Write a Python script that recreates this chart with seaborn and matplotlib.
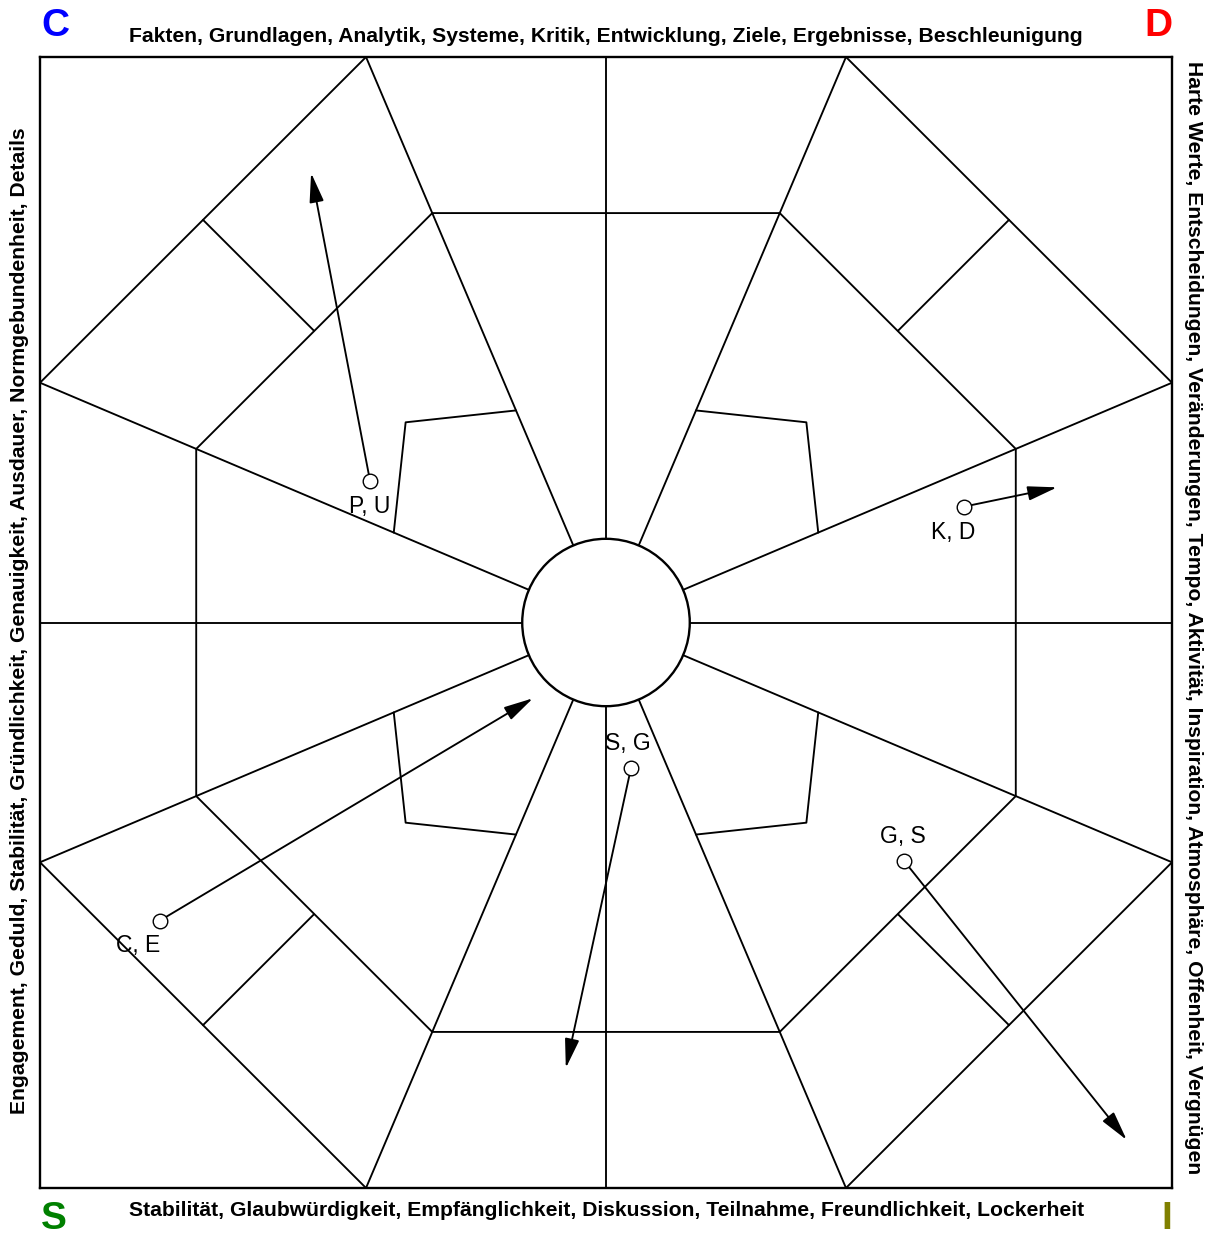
import numpy as np
import pandas as pd
import matplotlib
matplotlib.use("Agg")
import matplotlib.pyplot as plt
import seaborn as sns
from matplotlib.patches import Circle

# ---------------- data ----------------
top_text = "Fakten, Grundlagen, Analytik, Systeme, Kritik, Entwicklung, Ziele, Ergebnisse, Beschleunigung"
bottom_text = "Stabilität, Glaubwürdigkeit, Empfänglichkeit, Diskussion, Teilnahme, Freundlichkeit, Lockerheit"
left_text = "Engagement, Geduld, Stabilität, Gründlichkeit, Genauigkeit, Ausdauer, Normgebundenheit, Details"
right_text = "Harte Werte, Entscheidungen, Veränderungen, Tempo, Aktivität, Inspiration, Atmosphäre, Offenheit, Vergnügen"

corner_letters = ["C", "D", "S", "I"]
corner_colors = ["#0000ff", "#ff0000", "#008000", "#808000"]

point_labels = ["P, U", "K, D", "C, E", "S, G", "G, S"]
start_x = [-0.417, 0.633, -0.788, 0.044, 0.527]
start_y = [0.251, 0.205, -0.527, -0.258, -0.422]
end_x = [-0.521, 0.797, -0.129, -0.071, 0.920]
end_y = [0.795, 0.239, -0.134, -0.788, -0.915]

# template geometry (normalised frame, half size = 1)
tip = 0.424          # where the 22.5 deg radials meet the frame
octa = 0.724         # inner octagon distance
diag_in, diag_out = 0.516, 0.712
kink_a, kink_b, kink_c = (0.159, 0.375), (0.354, 0.354), (0.375, 0.159)
circle_r = 0.148

# ---------------- build template segments ----------------
rows = []
seg_ids = []
def seg(pts):
    sid = len(seg_ids)
    for i, (x, y) in enumerate(pts):
        rows.append(dict(seg=sid, order=i, x=x, y=y))
    seg_ids.append(sid)

for sx in (-1, 1):
    for sy in (-1, 1):
        seg([(0, 0), (sx * tip, sy * 1.0)])
        seg([(0, 0), (sx * 1.0, sy * tip)])
        seg([(sx * tip, sy * 1.0), (sx * 1.0, sy * tip)])
        seg([(sx * diag_in, sy * diag_in), (sx * diag_out, sy * diag_out)])
        seg([(sx * kink_a[0], sy * kink_a[1]), (sx * kink_b[0], sy * kink_b[1]),
             (sx * kink_c[0], sy * kink_c[1])])
seg([(0, 0), (0, 1)]); seg([(0, 0), (0, -1)])
seg([(0, 0), (1, 0)]); seg([(0, 0), (-1, 0)])
oc = tip * octa
seg([(oc, octa), (-oc, octa), (-octa, oc), (-octa, -oc), (-oc, -octa),
     (oc, -octa), (octa, -oc), (octa, oc), (oc, octa)])
df = pd.DataFrame(rows)

pts = pd.DataFrame(dict(label=point_labels, x=start_x, y=start_y))

# ---------------- figure ----------------
sns.set_theme(style="white")
plt.rcParams["font.family"] = ["Liberation Sans", "DejaVu Sans"]

W, H = 1217, 1239
fig = plt.figure(figsize=(W / 100, H / 100), dpi=100)
fig.patch.set_facecolor("white")
ax = fig.add_axes([40 / W, 1 - 1188 / H, 1132 / W, 1131 / H])
ax.set_xlim(-1, 1)
ax.set_ylim(-1, 1)

sns.lineplot(data=df, x="x", y="y", units="seg", estimator=None, sort=False,
             color="black", lw=1.35, ax=ax, legend=False, zorder=2)

ax.add_patch(Circle((0, 0), circle_r, facecolor="white", edgecolor="black",
                    lw=1.7, zorder=3))

for x0, y0, x1, y1 in zip(start_x, start_y, end_x, end_y):
    ax.annotate("", xy=(x1, y1), xytext=(x0, y0),
                arrowprops=dict(arrowstyle="-|>,head_length=0.9,head_width=0.22",
                                mutation_scale=20, lw=1.35, color="black",
                                shrinkA=0, shrinkB=0),
                zorder=4)

sns.scatterplot(data=pts, x="x", y="y", s=110, facecolor="white",
                edgecolor="black", linewidth=1.0, ax=ax, zorder=5, legend=False)

label_offsets = [(0, -26), (-11, -26), (-22, -25), (-3, 25), (-1, 25)]
for lab, x0, y0, (ox, oy) in zip(point_labels, start_x, start_y, label_offsets):
    ax.annotate(lab, xy=(x0, y0), xytext=(ox, oy), textcoords="offset pixels",
                ha="center", va="center", fontsize=16.5, color="black", zorder=6)

ax.set_xlabel("")
ax.set_ylabel("")
ax.set_xticks([])
ax.set_yticks([])
for sp in ax.spines.values():
    sp.set_visible(True)
    sp.set_color("black")
    sp.set_linewidth(1.7)

# side texts
fs_side = 15.2
fig.text(606 / W, 1 - 37 / H, top_text, ha="center", va="center",
         fontsize=fs_side, fontweight="bold", color="black")
fig.text(607 / W, 1 - 1211 / H, bottom_text, ha="center", va="center",
         fontsize=fs_side, fontweight="bold", color="black")
fig.text(20 / W, 1 - 621 / H, left_text, ha="center", va="center", rotation=90,
         fontsize=fs_side, fontweight="bold", color="black")
fig.text(1193 / W, 1 - 618 / H, right_text, ha="center", va="center", rotation=-90,
         fontsize=fs_side, fontweight="bold", color="black")

corner_pos = [(55, 36), (1158, 36), (54, 1229), (1167, 1229)]
for letter, col, (px, py) in zip(corner_letters, corner_colors, corner_pos):
    fig.text(px / W, 1 - py / H, letter, ha="center", va="baseline",
             fontsize=28, fontweight="bold", color=col)

fig.savefig("out.png", dpi=100, facecolor="white")
